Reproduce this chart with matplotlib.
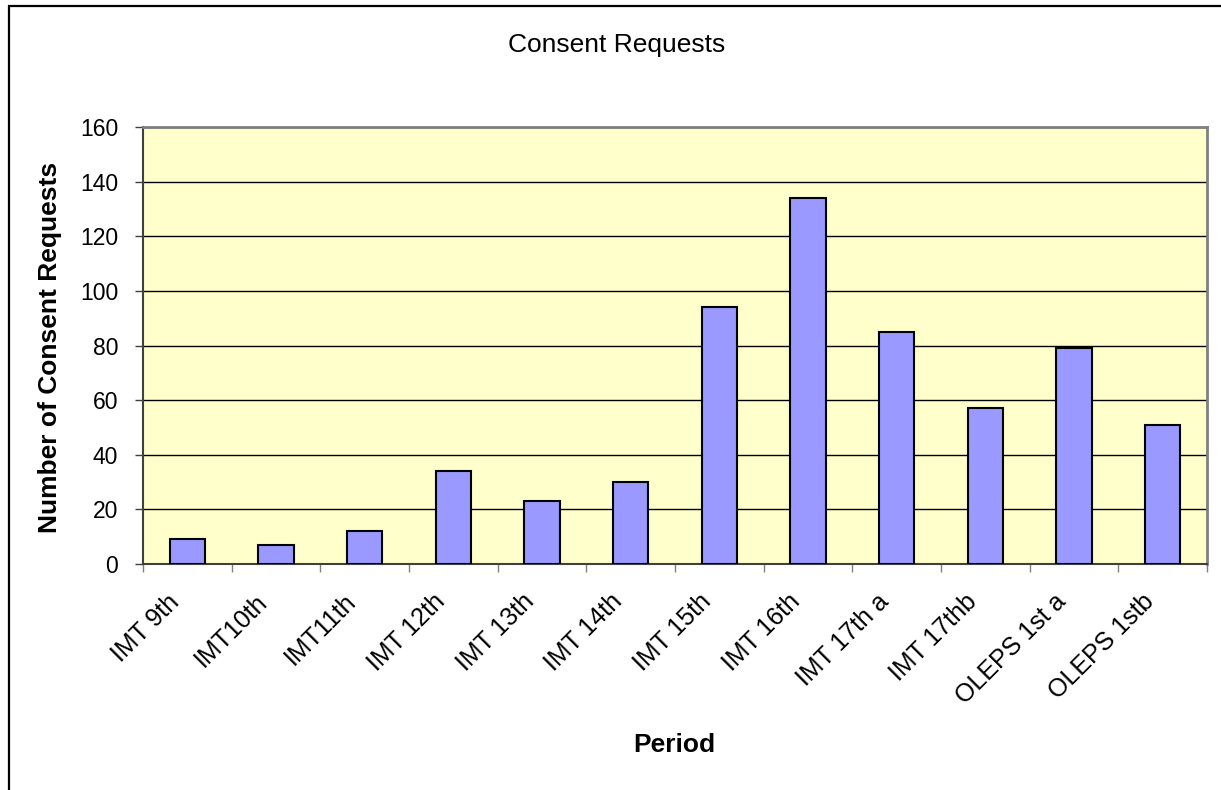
import matplotlib.pyplot as plt
from matplotlib.patches import Rectangle
from matplotlib.transforms import ScaledTranslation

periods = ['IMT 9th', 'IMT10th', 'IMT11th', 'IMT 12th', 'IMT 13th', 'IMT 14th',
           'IMT 15th', 'IMT 16th', 'IMT 17th a', 'IMT 17thb', 'OLEPS 1st a', 'OLEPS 1stb']
requests = [9, 7, 12, 34, 23, 30, 94, 134, 85, 57, 79, 51]
y_ticks = [0, 20, 40, 60, 80, 100, 120, 140, 160]

plt.rcParams['font.family'] = ['Liberation Sans', 'DejaVu Sans']

W, H = 1221, 790
fig = plt.figure(figsize=(W / 100, H / 100), dpi=100)
fig.patch.set_facecolor('white')

# outer chart border (runs off the right and bottom of the image)
fig.add_artist(Rectangle((9 / W, -0.05), 1.2, 1 - 6 / H + 0.05, transform=fig.transFigure,
                         fill=False, edgecolor='black', linewidth=1.6))

ax = fig.add_axes([143 / W, 1 - 564 / H, (1207 - 143) / W, (564 - 127) / H])
ax.set_facecolor('#FFFFCC')

x = list(range(len(periods)))
ax.bar(x, requests, width=0.4, color='#9999FF', edgecolor='black', linewidth=1.5, zorder=3)

ax.set_xlim(-0.5, len(periods) - 0.5)
ax.set_ylim(0, 160)
ax.set_yticks(y_ticks)
ax.yaxis.grid(True, color='black', linewidth=1.0, zorder=1)
ax.set_axisbelow(True)

ax.tick_params(axis='y', direction='out', length=6, width=1, labelsize=16.5, pad=12, color='#404040')
ax.set_xticks([i - 0.5 for i in range(len(periods) + 1)])
ax.set_xticklabels([])
ax.set_xticks(x, minor=True)
ax.set_xticklabels(periods, minor=True, rotation=45, ha='right', va='center',
                   rotation_mode='anchor', fontsize=18)
ax.tick_params(axis='x', which='major', direction='out', length=6, width=1, color='#808080')
ax.tick_params(axis='x', which='minor', length=0, pad=26)

# Excel puts the end of each slanted label a bit left of the category centre
shift = ScaledTranslation(-12 / 100, 2 / 100, fig.dpi_scale_trans)
for lbl in ax.get_xticklabels(minor=True):
    lbl.set_transform(lbl.get_transform() + shift)

for side in ['top', 'right']:
    ax.spines[side].set_color('#808080')
    ax.spines[side].set_linewidth(2)
for side in ['left', 'bottom']:
    ax.spines[side].set_color('#404040')
    ax.spines[side].set_linewidth(1.5)

fig.text(617 / W, 1 - 45 / H, 'Consent Requests', ha='center', va='center', fontsize=19)
fig.text(50 / W, 1 - 347 / H, 'Number of Consent Requests', ha='center', va='center',
         rotation=90, fontsize=19, fontweight='bold')
fig.text(674 / W, 1 - 745 / H, 'Period', ha='center', va='center', fontsize=19, fontweight='bold')

plt.savefig('out.png', dpi=100)
